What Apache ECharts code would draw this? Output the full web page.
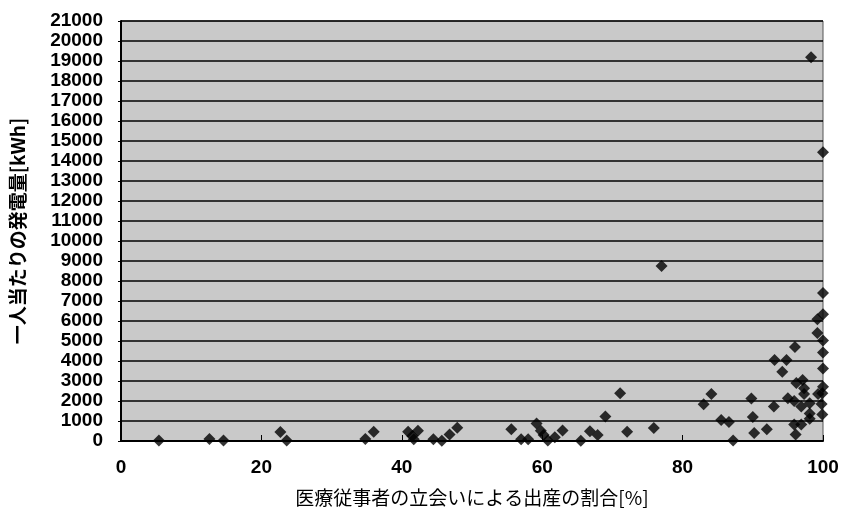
<!DOCTYPE html>
<html>
<head>
<meta charset="utf-8">
<script src="https://cdn.jsdelivr.net/npm/echarts@6/dist/echarts.min.js"></script>
<style>
html, body { margin: 0; padding: 0; background: #fff; }
#chart { width: 843px; height: 516px; }
</style>
</head>
<body>
<div id="chart"></div>
<script>
// 医療従事者の立会いによる出産の割合[%] と 一人当たりの発電量[kWh]
var birthRate = [5.4, 12.6, 14.6, 22.7, 23.6,
	34.8, 36.0, 40.9, 41.5, 41.7, 42.3, 44.5, 45.7, 46.8, 47.9,
	55.6, 57.0, 58.0, 59.2, 59.8, 60.2, 60.8, 61.8, 62.9, 65.5, 66.8, 67.9, 69.0, 71.1, 72.1, 75.9, 77.0,
	83.0, 84.1, 85.5, 86.6, 87.2, 89.8, 90.0, 90.2, 92.0, 93.0, 93.1, 94.2, 94.8, 95.0, 95.9, 96.0,
	96.2, 97.1, 97.3, 97.3, 96.9, 98.1, 99.8, 98.1, 98.1, 99.9, 95.9, 96.9, 96.1,
	99.3, 99.9, 100, 100, 100, 100, 99.2, 99.2, 100, 100, 100, 98.3];
var power = [20, 100, 30, 450, 30,
	100, 465, 465, 250, 85, 515, 85, 10, 330, 665,
	585, 85, 85, 870, 515, 300, 20, 185, 530, 10, 490, 300, 1230, 2385, 465, 650, 8750,
	1835, 2345, 1050, 950, 30, 2120, 1200, 400, 585, 1730, 4050, 3465, 4050, 2135, 2000, 4700,
	2900, 3050, 2635, 2350, 1730, 1885, 1850, 1370, 1110, 1320, 830, 830, 320,
	2350, 2385, 2715, 3620, 4430, 5030, 5400, 6085, 6335, 7400, 14435, 19185];

var points = [];
for (var i = 0; i < birthRate.length; i++) {
	points.push([birthRate[i], power[i]]);
}

var myChart = echarts.init(document.getElementById('chart'));
var labelFont = { color: '#000', fontSize: 19, fontWeight: 'bold', fontFamily: 'Liberation Sans' };

var option = {
	animation: false,
	grid: {
		left: 118, right: 20, top: 21, bottom: 75,
		show: true,
		backgroundColor: '#c9c9c9',
		borderColor: '#555',
		borderWidth: 1
	},
	xAxis: {
		type: 'value',
		min: 0, max: 100, interval: 20,
		name: '医療従事者の立会いによる出産の割合[%]',
		nameLocation: 'middle',
		nameGap: 47,
		nameTextStyle: { color: '#000', fontSize: 19, fontFamily: 'Noto Sans CJK JP' },
		axisLine: { show: true, lineStyle: { color: '#000', width: 2 } },
		axisTick: { show: true, inside: true, length: 6, lineStyle: { color: '#000', width: 1 } },
		axisLabel: Object.assign({ margin: 17 }, labelFont),
		splitLine: { show: false }
	},
	yAxis: {
		type: 'value',
		min: 0, max: 21000, interval: 1000,
		name: '一人当たりの発電量[kWh]',
		nameLocation: 'middle',
		nameGap: 94,
		nameRotate: 90,
		nameTextStyle: { color: '#000', fontSize: 19, fontWeight: 'bold', fontFamily: 'Noto Sans CJK JP' },
		axisLine: { show: true, lineStyle: { color: '#000', width: 2 } },
		axisTick: { show: true, length: 3, lineStyle: { color: '#000' } },
		axisLabel: Object.assign({ margin: 18, formatter: function(v) { return String(v); } }, labelFont),
		splitLine: { show: true, lineStyle: { color: '#000', width: 1.5 } }
	},
	series: [{
		type: 'scatter',
		symbol: 'diamond',
		symbolSize: 12,
		itemStyle: { color: '#000' },
		data: points
	}]
};
myChart.setOption(option);
</script>
</body>
</html>
